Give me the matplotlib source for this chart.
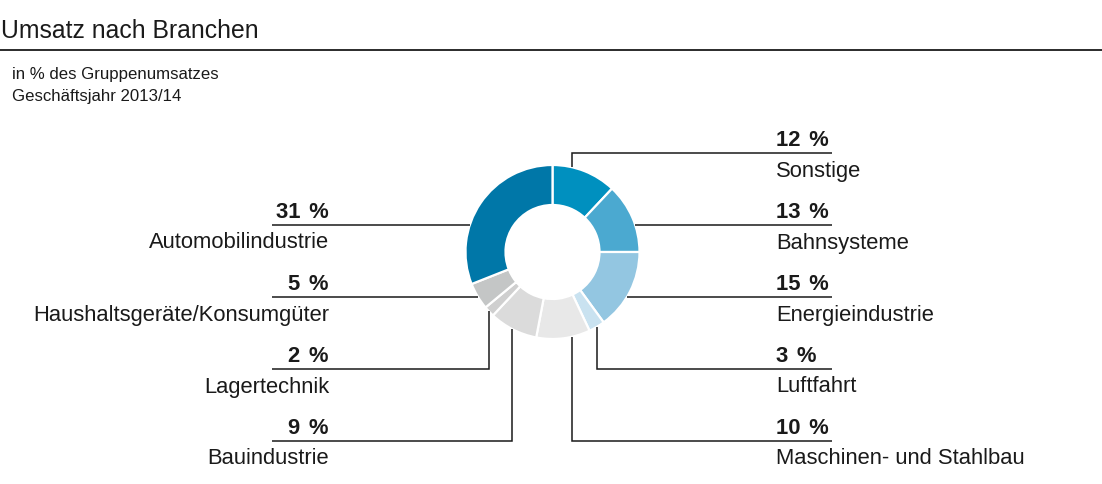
import matplotlib
matplotlib.use("Agg")
import matplotlib.pyplot as plt
import numpy as np

plt.rcParams['font.family'] = ['Liberation Sans', 'DejaVu Sans']

# ---- data ----
categories = ["Sonstige", "Bahnsysteme", "Energieindustrie", "Luftfahrt",
              "Maschinen- und Stahlbau", "Bauindustrie", "Lagertechnik",
              "Haushaltsgeräte/Konsumgüter", "Automobilindustrie"]
values = [12, 13, 15, 3, 10, 9, 2, 5, 31]
colors = ["#0090bf", "#4ba9d0", "#93c6e1", "#c9e2f0", "#e8e8e8",
          "#dbdbdb", "#cfcfcf", "#c4c6c6", "#0077a8"]

title = "Umsatz nach Branchen"
subtitle = ["in % des Gruppenumsatzes", "Geschäftsjahr 2013/14"]

# ---- layout (pixel coordinates, y measured from top) ----
W, H = 1102, 484
cx, cy = 552.5, 252.0
R, ring = 87.0, 40.0
# side, label-line y, vertical-leader x (None -> horizontal leader)
layout = {
    "Sonstige": ("R", 153, 572),
    "Bahnsysteme": ("R", 225, None),
    "Energieindustrie": ("R", 297, None),
    "Luftfahrt": ("R", 369, 597),
    "Maschinen- und Stahlbau": ("R", 441, 572),
    "Automobilindustrie": ("L", 225, None),
    "Haushaltsgeräte/Konsumgüter": ("L", 297, None),
    "Lagertechnik": ("L", 369, 489),
    "Bauindustrie": ("L", 441, 512),
}
right_text_x, right_end = 776, 832
left_text_x, left_end = 329, 272
ink = "#1a1a1a"

fig = plt.figure(figsize=(W / 100, H / 100), dpi=100)
ax = fig.add_axes([0, 0, 1, 1])

def Y(y):
    return H - y

ax.pie(values, colors=colors, startangle=90, counterclock=False,
       radius=R, center=(cx, Y(cy)),
       wedgeprops=dict(width=ring, edgecolor="white", linewidth=1.6))

ax.set_xlim(0, W)
ax.set_ylim(0, H)
ax.set_aspect("equal")
ax.axis("off")

# title & rule
ax.text(1, Y(37.5), title, fontsize=17.8, color=ink, ha="left", va="baseline")
ax.plot([0, W], [Y(50), Y(50)], color=ink, lw=1.3, solid_capstyle="butt")
ax.text(12, Y(79), subtitle[0], fontsize=12.1, color=ink, ha="left", va="baseline")
ax.text(12, Y(100.5), subtitle[1], fontsize=12.1, color=ink, ha="left", va="baseline")

# leaders and labels
for name, val in zip(categories, values):
    side, ly, vx = layout[name]
    if vx is not None:
        dx = vx - cx
        dy = np.sqrt(R ** 2 - dx ** 2)
        ay = cy - dy if ly < cy else cy + dy
        if side == "R":
            xs, ys = [vx, vx, right_end], [ay, ly, ly]
        else:
            xs, ys = [vx, vx, left_end], [ay, ly, ly]
    else:
        dyy = ly - cy
        ax_ = np.sqrt(R ** 2 - dyy ** 2)
        if side == "R":
            xs, ys = [cx + ax_, right_end], [ly, ly]
        else:
            xs, ys = [cx - ax_, left_end], [ly, ly]
    ax.plot(xs, [Y(v) for v in ys], color=ink, lw=1.1,
            solid_joinstyle="miter", solid_capstyle="butt")
    if side == "R":
        tx, ha = right_text_x, "left"
    else:
        tx, ha = left_text_x, "right"
    ax.text(tx, Y(ly - 7), f"{val}\u2009\u2009%", fontsize=15.8, fontweight="bold",
            color=ink, ha=ha, va="baseline")
    ax.text(tx, Y(ly + 23.5), name, fontsize=15.8, color=ink, ha=ha, va="baseline")

fig.savefig("out.png", dpi=100, facecolor="white")
